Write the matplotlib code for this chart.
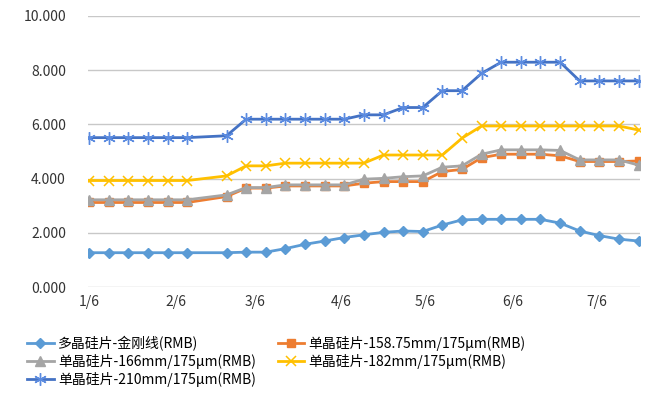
import matplotlib
matplotlib.use("Agg")
import matplotlib.pyplot as plt
import numpy as np

plt.rcParams['font.family'] = ['Noto Sans CJK SC', 'DejaVu Sans']

# weekly price dates (no quote in the Spring Festival week)
dates = np.array(["2021-01-06", "2021-01-13", "2021-01-20", "2021-01-27", "2021-02-03",
                  "2021-02-10", "2021-02-24", "2021-03-03", "2021-03-10", "2021-03-17",
                  "2021-03-24", "2021-03-31", "2021-04-07", "2021-04-14", "2021-04-21",
                  "2021-04-28", "2021-05-05", "2021-05-12", "2021-05-19", "2021-05-26",
                  "2021-06-02", "2021-06-09", "2021-06-16", "2021-06-23", "2021-06-30",
                  "2021-07-07", "2021-07-14", "2021-07-21"], dtype="datetime64[D]")

poly = [1.27, 1.27, 1.27, 1.27, 1.27, 1.27, 1.27, 1.29, 1.29, 1.42, 1.58, 1.70, 1.83, 1.93,
        2.02, 2.07, 2.05, 2.29, 2.48, 2.50, 2.50, 2.50, 2.50, 2.36, 2.07, 1.90, 1.77, 1.70]
mono_158 = [3.12, 3.12, 3.12, 3.12, 3.12, 3.12, 3.34, 3.65, 3.65, 3.73, 3.73, 3.73, 3.73, 3.83,
            3.89, 3.89, 3.89, 4.26, 4.34, 4.77, 4.90, 4.90, 4.90, 4.84, 4.63, 4.63, 4.63, 4.65]
mono_166 = [3.22, 3.22, 3.22, 3.22, 3.22, 3.22, 3.40, 3.67, 3.67, 3.77, 3.77, 3.77, 3.77, 3.98,
            4.01, 4.07, 4.10, 4.42, 4.47, 4.90, 5.06, 5.06, 5.06, 5.04, 4.69, 4.69, 4.69, 4.50]
mono_182 = [3.93, 3.93, 3.93, 3.93, 3.93, 3.93, 4.10, 4.47, 4.47, 4.57, 4.57, 4.57, 4.57, 4.57,
            4.87, 4.87, 4.87, 4.87, 5.49, 5.94, 5.94, 5.94, 5.94, 5.94, 5.94, 5.94, 5.94, 5.79]
mono_210 = [5.51, 5.51, 5.51, 5.51, 5.51, 5.51, 5.58, 6.19, 6.19, 6.19, 6.19, 6.19, 6.19, 6.35,
            6.35, 6.62, 6.62, 7.24, 7.24, 7.88, 8.29, 8.29, 8.29, 8.29, 7.60, 7.60, 7.60, 7.60]

labels = ["多晶硅片-金刚线(RMB)", "单晶硅片-158.75mm/175μm(RMB)", "单晶硅片-166mm/175μm(RMB)",
          "单晶硅片-182mm/175μm(RMB)", "单晶硅片-210mm/175μm(RMB)"]
tick_dates = np.array(["2021-01-06", "2021-02-06", "2021-03-06", "2021-04-06",
                       "2021-05-06", "2021-06-06", "2021-07-06"], dtype="datetime64[D]")
tick_labels = ["1/6", "2/6", "3/6", "4/6", "5/6", "6/6", "7/6"]

fig = plt.figure(figsize=(6.48, 3.95), dpi=100)
ax = fig.add_axes([0.136, 0.273, 0.852, 0.687])

h_poly, = ax.plot(dates, poly, color="#5B9BD5", lw=2, marker="D", ms=5.5, label=labels[0])
h_158, = ax.plot(dates, mono_158, color="#ED7D31", lw=2, marker="s", ms=6, label=labels[1])
h_166, = ax.plot(dates, mono_166, color="#A5A5A5", lw=2, marker="^", ms=7, label=labels[2])
h_182, = ax.plot(dates, mono_182, color="#FFC000", lw=2, marker="x", ms=7, mew=1.1, label=labels[3])
h_210, = ax.plot(dates, mono_210, color="#4472C4", lw=2, marker=(6, 2, 0), ms=9, mew=1,
                 mec="#5B8BE0", label=labels[4])

ax.set_ylim(0, 10)
ax.set_yticks(np.arange(0, 10.1, 2))
ax.set_yticklabels([f"{v:.3f}" for v in np.arange(0, 10.1, 2)])
ax.set_xlim(dates[0] - np.timedelta64(9, 'h'), dates[-1] + np.timedelta64(14, 'h'))
ax.set_xticks(tick_dates)
ax.set_xticklabels(tick_labels)

ax.grid(axis="y", color="#C8C8C8", lw=1)
ax.set_axisbelow(True)
for s in ax.spines.values():
    s.set_visible(False)
ax.tick_params(axis="both", length=0, labelsize=10, colors="#333333")
ax.tick_params(axis="y", pad=16)
ax.tick_params(axis="x", pad=6)

fig.legend(handles=[h_poly, h_166, h_210, h_158, h_182], ncol=2, frameon=False,
           loc="upper left", bbox_to_anchor=(0.042, 0.15), fontsize=10,
           handlelength=1.9, handletextpad=0.3, columnspacing=1.6,
           labelspacing=0.22, borderpad=0, borderaxespad=0)

fig.savefig("out.png", dpi=100)
